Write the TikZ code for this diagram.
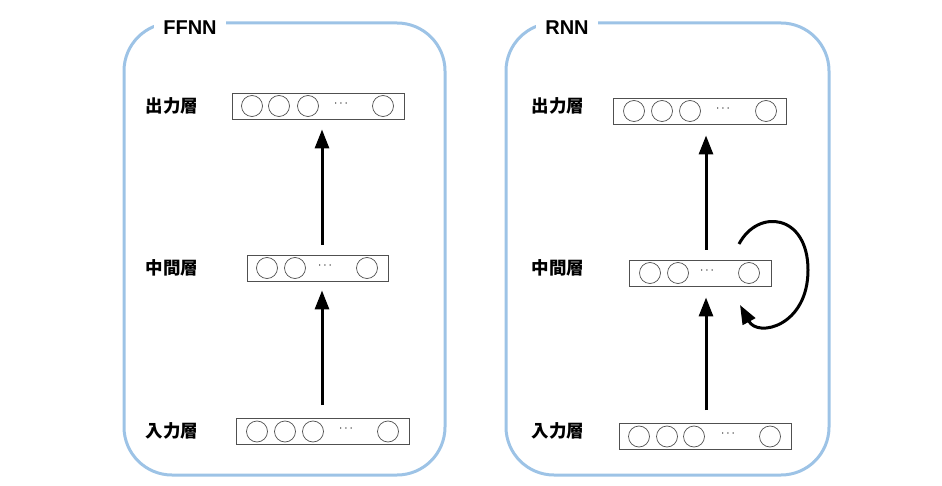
\documentclass[tikz,border=0pt]{standalone}
\usepackage{fontspec}
\setmainfont{Liberation Sans}
\newfontfamily\cjk{Noto Sans CJK JP}
\usetikzlibrary{arrows.meta}
\definecolor{panelblue}{RGB}{157,195,230}
\definecolor{boxgray}{RGB}{80,80,80}

\tikzset{
  panel/.style={draw=panelblue, line width=3pt, rounded corners=48pt},
  title/.style={fill=white, inner xsep=9pt, font=\fontsize{20}{22}\selectfont\bfseries},
  lbl/.style={font=\cjk\fontsize{17.5}{19}\selectfont\bfseries},
  layerbox/.style={draw=boxgray, line width=0.9pt, minimum height=26pt, inner sep=0pt},
  unit/.style={circle, draw=boxgray, line width=0.7pt, minimum size=21pt, inner sep=0pt},
  dots/.style={font=\fontsize{13}{15}\selectfont},
  flow/.style={-{Triangle[length=19pt,width=14pt]}, line width=3pt},
}

\begin{document}
\begin{tikzpicture}[x=1pt,y=-1pt]
    \useasboundingbox (0,0) rectangle (942,486);

    % Panels
    \draw[panel] (124,23) rectangle (445,475);
    \draw[panel] (506,23) rectangle (829,475);
    \node[title] (tFF) at (190,28) {FFNN};
    \node[title] (tRN) at (567,28) {RNN};

    % FFNN layers
    \node[layerbox, minimum width=172pt] (outL) at (318,106) {};
    \node[layerbox, minimum width=141pt] (hidL) at (317.5,268) {};
    \node[layerbox, minimum width=173pt] (inL) at (322.5,431.5) {};
    \foreach \x [count=\i] in {252,279,308,383} \node[unit] (oL\i) at (\x,106) {};
    \foreach \x [count=\i] in {267,295,367} \node[unit] (hL\i) at (\x,268) {};
    \foreach \x [count=\i] in {257,285,313,388} \node[unit] (iL\i) at (\x,431.5) {};
    \node[dots] (dOL) at (341,104) {$\cdots$};
    \node[dots] (dHL) at (325,266) {$\cdots$};
    \node[dots] (dIL) at (346,429) {$\cdots$};

    \node[lbl] (lOL) at (172,106) {出力層};
    \node[lbl] (lHL) at (172,268) {中間層};
    \node[lbl] (lIL) at (172,431) {入力層};

    % RNN layers
    \node[layerbox, minimum width=173pt] (outR) at (700,111) {};
    \node[layerbox, minimum width=142pt] (hidR) at (700,273) {};
    \node[layerbox, minimum width=172pt] (inR) at (705,436.5) {};
    \foreach \x [count=\i] in {634,662,690,766} \node[unit] (oR\i) at (\x,111) {};
    \foreach \x [count=\i] in {650,678,749} \node[unit] (hR\i) at (\x,273) {};
    \foreach \x [count=\i] in {639,667,694,770} \node[unit] (iR\i) at (\x,436.5) {};
    \node[dots] (dOR) at (723,109) {$\cdots$};
    \node[dots] (dHR) at (707,271) {$\cdots$};
    \node[dots] (dIR) at (728,434) {$\cdots$};

    \node[lbl] (lOR) at (558,106) {出力層};
    \node[lbl] (lHR) at (558,268) {中間層};
    \node[lbl] (lIR) at (558,431) {入力層};

    % Arrows
    \coordinate (axL) at (322,0);
    \coordinate (axR) at (706,0);
    \draw[flow, shorten <=13pt, shorten >=9pt] (inL.north -| axL) -- (hidL.south -| axL);
    \draw[flow, shorten <=10pt, shorten >=10pt] (hidL.north -| axL) -- (outL.south -| axL);
    \draw[flow, shorten <=13pt, shorten >=11pt] (inR.north -| axR) -- (hidR.south -| axR);
    \draw[flow, shorten <=10pt, shorten >=11pt] (hidR.north -| axR) -- (outR.south -| axR);

    % Recurrent loop
    \coordinate (loopS) at (739,244);
    \coordinate (loopE) at (740,305);
    \draw[flow] (loopS) .. controls (758,208) and (808,214) .. (808,270)
        .. controls (808,326) and (758,338) .. (loopE);

\end{tikzpicture}
\end{document}
